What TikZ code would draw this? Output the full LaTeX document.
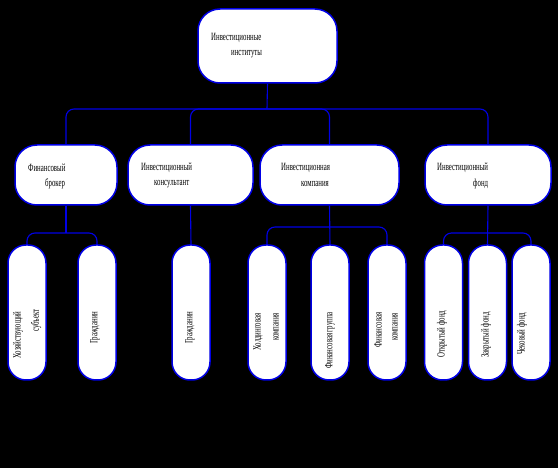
\documentclass[tikz,border=0pt]{standalone}
\usepackage{fontspec}
\newfontfamily\condserif[FakeStretch=0.62]{Liberation Serif}
\usepackage{tikz}
\usetikzlibrary{positioning,calc}
\usepackage{xcolor}
\definecolor{linkblue}{RGB}{0,0,230}

\begin{document}
\begin{tikzpicture}[
    x=1pt, y=-1pt,
    topbox/.style={rectangle, draw=linkblue, fill=white, line width=1.5pt, rounded corners=22pt,
                minimum width=139pt, minimum height=74pt, inner sep=0pt},
    midbox/.style={rectangle, draw=linkblue, fill=white, line width=1.5pt, rounded corners=22pt,
                minimum height=60pt, inner sep=0pt},
    lowbox/.style={rectangle, draw=linkblue, fill=white, line width=1.5pt, rounded corners=18pt,
                minimum width=38pt, minimum height=135pt, inner sep=0pt},
    txt/.style={font=\condserif\fontsize{11}{12}\selectfont, inner sep=0pt, anchor=west},
    vtxt/.style={txt, rotate=90},
    link/.style={draw=linkblue, line width=1.1pt, rounded corners=8pt}
]
    % background
    \fill[black] (0,0) rectangle (558,468);

    % Top level
    \node[topbox] (inst) at (267.5,46) {};
    \node[txt] (instA) at (211,38) {Инвестиционные};
    \node[txt] (instB) at (231,54) {институты};

    % Level 2
    \node[midbox, minimum width=102pt] (broker) at (66,175) {};
    \node[txt] (brokerA) at (28,168) {Финансовый};
    \node[txt] (brokerB) at (45,184) {брокер};

    \node[midbox, minimum width=125pt] (consult) at (190.5,175) {};
    \node[txt] (consultA) at (141,168) {Инвестиционный};
    \node[txt] (consultB) at (154,184) {консультант};

    \node[midbox, minimum width=139pt] (company) at (329.5,175) {};
    \node[txt] (companyA) at (281,168) {Инвестиционная};
    \node[txt] (companyB) at (301,184) {компания};

    \node[midbox, minimum width=126pt] (fund) at (488,175) {};
    \node[txt] (fundA) at (437,168) {Инвестиционный};
    \node[txt] (fundB) at (473,184) {фонд};

    % Level 3
    \node[lowbox] (subject) at (27,312.5) {};
    \node[vtxt] (subjectA) at (18,359) {Хозяйствующий};
    \node[vtxt] (subjectB) at (36,332) {субъект};

    \node[lowbox] (citizenA) at (97,312.5) {};
    \node[vtxt] (citizenAt) at (95,344) {Гражданин};

    \node[lowbox] (citizenB) at (191,312.5) {};
    \node[vtxt] (citizenBt) at (190,344) {Гражданин};

    \node[lowbox] (holding) at (267,312.5) {};
    \node[vtxt] (holdingA) at (258,351) {Холдинговая};
    \node[vtxt] (holdingB) at (276,341) {компания};

    \node[lowbox] (group) at (330,312.5) {};
    \node[vtxt] (groupt) at (330,369) {Финансовая группа};

    \node[lowbox] (fincomp) at (387,312.5) {};
    \node[vtxt] (fincompA) at (378,348) {Финансовая};
    \node[vtxt] (fincompB) at (395,341) {компания};

    \node[lowbox] (openf) at (443.5,312.5) {};
    \node[vtxt] (openft) at (442,358) {Открытый фонд};

    \node[lowbox] (closedf) at (487.5,312.5) {};
    \node[vtxt] (closedft) at (486,358) {Закрытый фонд};

    \node[lowbox] (checkf) at (531,312.5) {};
    \node[vtxt] (checkft) at (522,355) {Чековый фонд};

    % Connectors
    \coordinate (bus) at (267,109);
    \draw[link] (inst.south) -- (bus);
    \draw[link] (broker.north) |- (bus) -| (fund.north);
    \draw[link] (consult.north) |- (bus) -| (company.north);

    \coordinate (brokerJ) at (66,233);
    \draw[link] (broker.south) -- (brokerJ);
    \draw[link] (subject.north) |- (brokerJ) -| (citizenA.north);

    \draw[link] (consult.south) -- (citizenB.north);

    \coordinate (companyJ) at (329.5,227);
    \draw[link] (company.south) -- (group.north);
    \draw[link] (holding.north) |- (companyJ) -| (fincomp.north);

    \coordinate (fundJ) at (488,233);
    \draw[link] (fund.south) -- (closedf.north);
    \draw[link] (openf.north) |- (fundJ) -| (checkf.north);
\end{tikzpicture}
\end{document}
